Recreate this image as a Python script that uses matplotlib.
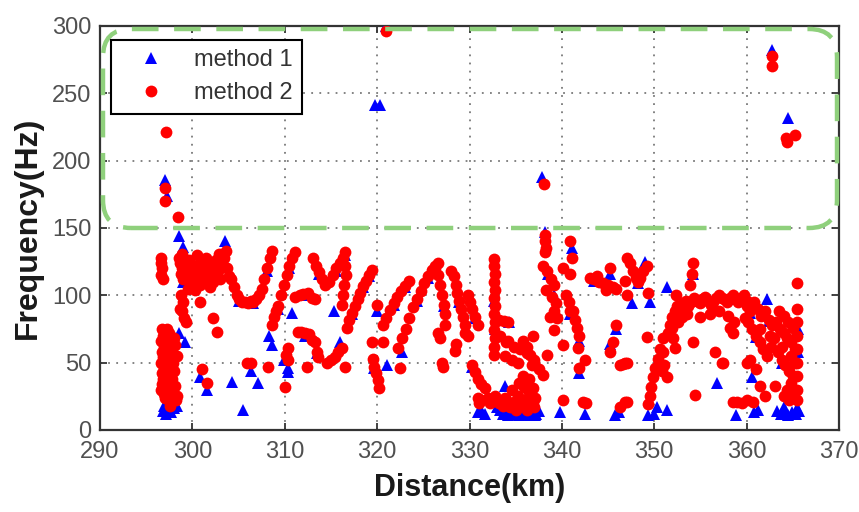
import matplotlib
matplotlib.use("Agg")
import matplotlib.pyplot as plt
from matplotlib.patches import FancyBboxPatch

FONT = "Liberation Sans"

# ---------------- data ----------------
xticks = [290, 300, 310, 320, 330, 340, 350, 360, 370]
yticks = [0, 50, 100, 150, 200, 250, 300]

m2_outliers = [(297.1, 221), (297.0, 180), (297.0, 170), (298.4, 158), (321.0, 296), (338.1, 183),
               (338.2, 140), (338.3, 135), (362.7, 278), (362.7, 270), (364.3, 217), (364.4, 214),
               (365.2, 219)]
m2_a = [(296.6, 128), (296.6, 124), (296.7, 120), (296.6, 115), (296.8, 112),
        (296.7, 75), (296.8, 70), (296.6, 66), (296.9, 62), (296.7, 58), (296.8, 54), (296.6, 50),
        (296.9, 46), (296.7, 42), (296.8, 38), (296.7, 34), (296.6, 30), (296.9, 27), (297.0, 24),
        (297.1, 68), (297.2, 60), (297.3, 55), (297.2, 48), (297.4, 42), (297.3, 36), (297.5, 30),
        (297.4, 25), (297.6, 20), (297.5, 72), (297.7, 65), (297.8, 58), (297.9, 50), (298.0, 44),
        (297.8, 38), (298.1, 33), (297.9, 27), (298.2, 22), (298.3, 25), (297.6, 18), (297.3, 75),
        (298.0, 68), (298.1, 63), (298.3, 55)]
m2_b = [(298.5, 128), (298.7, 124), (298.9, 120), (298.8, 116), (299.0, 112), (299.2, 118),
        (299.4, 122), (299.6, 126), (299.8, 115), (300.0, 110), (300.2, 118), (300.4, 122),
        (300.6, 114), (300.8, 108), (301.0, 120), (301.2, 125), (301.4, 112), (301.6, 118),
        (301.8, 122), (302.0, 115), (302.2, 110), (302.4, 120), (302.6, 126), (302.8, 118),
        (303.0, 112), (303.2, 122), (303.4, 128), (303.6, 133), (303.8, 120), (304.0, 114),
        (299.5, 105), (300.3, 104), (301.9, 106), (298.9, 131), (300.5, 130), (301.5, 128),
        (302.9, 131), (298.8, 100), (299.0, 95), (298.9, 88), (299.1, 83), (299.3, 80), (298.7, 90),
        (300.8, 95), (302.2, 83), (302.7, 73), (301.0, 45), (301.6, 35)]
m2_c = [(304.2, 112), (304.5, 106), (304.8, 100), (305.1, 97), (305.4, 95), (305.7, 95), (306.0, 94),
        (306.3, 96), (306.6, 95), (306.9, 97), (307.2, 100), (307.5, 105), (307.8, 112), (308.1, 120),
        (308.4, 128), (308.6, 133), (305.9, 50), (306.4, 50), (308.2, 47),
        (308.6, 78), (308.8, 84), (309.0, 88), (309.3, 92), (309.6, 100), (309.9, 108), (310.2, 115),
        (310.5, 122), (310.8, 128), (311.1, 132), (310.0, 32), (310.3, 52), (310.3, 61), (310.1, 56)]
m2_d = [(311.1, 99), (311.6, 100), (312.0, 101), (312.5, 102), (313.0, 98), (313.3, 97),
        (311.4, 73), (311.8, 73), (312.2, 72), (312.6, 71), (313.0, 67), (313.3, 65), (313.5, 58),
        (313.6, 54), (312.4, 47), (314.6, 50), (315.0, 52), (315.4, 54), (315.8, 58),
        (313.1, 128), (313.4, 122), (313.7, 117), (314.0, 112), (314.4, 108), (314.8, 110),
        (315.2, 115), (315.6, 120), (316.0, 124), (316.3, 128), (316.5, 132),
        (316.5, 122), (316.6, 115), (316.4, 108), (316.3, 100), (316.2, 93)]
m2_e = [(316.7, 76), (317.0, 82), (317.3, 87), (317.6, 92), (317.9, 97), (318.2, 102), (318.5, 107),
        (318.8, 111), (319.1, 115), (319.4, 119), (316.2, 61), (316.5, 47), (319.4, 65), (320.0, 93),
        (319.5, 53), (319.7, 47), (319.9, 42), (320.1, 37), (320.2, 31), (320.6, 65), (322.5, 46),
        (320.6, 78), (321.0, 83), (321.4, 89), (321.8, 94), (322.2, 99), (322.6, 103), (323.0, 107),
        (323.4, 111), (322.3, 61), (322.7, 68), (323.1, 75), (323.5, 83), (323.9, 91), (324.3, 97),
        (324.7, 103), (325.1, 109), (325.5, 114), (325.9, 119), (326.3, 122), (326.6, 124)]
m2_f = [(326.3, 120), (326.6, 115), (326.8, 108), (327.0, 100), (327.2, 93), (327.3, 86), (327.4, 78),
        (326.6, 72), (326.8, 68), (327.0, 50), (327.1, 47), (328.0, 118), (328.3, 114), (328.5, 108),
        (328.7, 102), (328.9, 96), (329.1, 90), (329.3, 84), (329.5, 78), (328.4, 59), (328.5, 64),
        (329.8, 100), (330.0, 95), (330.3, 90), (330.6, 84), (330.9, 78), (329.8, 70), (329.5, 72),
        (330.3, 48), (330.6, 43), (330.9, 38), (331.2, 34), (331.7, 31), (330.9, 24), (331.0, 20),
        (331.2, 22)]
m2_g = [(332.7, 127), (332.7, 122), (332.8, 116), (332.7, 110), (332.8, 104), (332.7, 98), (332.8, 92),
        (332.7, 86), (332.8, 80), (332.7, 74), (332.8, 68), (332.7, 62), (332.6, 56), (333.2, 82),
        (333.7, 81), (334.2, 80), (333.3, 70), (334.0, 65), (334.8, 62), (335.5, 60), (336.2, 57),
        (337.0, 52), (333.8, 55), (334.6, 52), (335.3, 50), (336.2, 62), (336.8, 48), (335.8, 66),
        (334.2, 66), (332.8, 25), (333.2, 20), (333.6, 18), (334.0, 22), (334.4, 17), (334.8, 21),
        (335.2, 25), (335.6, 18), (336.0, 22), (336.4, 28), (336.8, 20), (337.1, 24), (334.6, 30),
        (335.4, 35), (335.9, 32), (333.8, 24), (335.0, 15), (336.2, 15), (337.0, 17), (335.8, 40),
        (336.4, 38), (332.2, 20), (332.0, 24)]
m2_h = [(336.9, 70), (336.6, 56), (337.0, 50), (337.5, 45), (338.0, 41), (338.4, 56), (336.9, 31),
        (336.9, 21), (340.1, 22), (338.2, 145), (338.2, 132), (338.0, 122), (338.4, 118), (338.8, 112),
        (339.2, 108), (338.3, 104), (338.9, 99), (339.4, 94), (339.1, 88), (338.7, 84), (339.5, 83),
        (340.9, 140), (341.1, 128), (340.1, 120), (340.9, 116), (340.4, 100), (340.8, 95), (340.9, 88),
        (341.2, 88), (341.4, 82), (341.6, 76), (341.9, 70), (339.2, 74), (340.1, 63), (341.7, 61),
        (342.5, 52), (341.9, 46), (342.3, 21), (342.6, 20)]
m2_i = [(343.0, 113), (343.5, 112), (344.0, 110), (344.5, 109), (345.0, 108), (345.5, 106), (345.9, 105),
        (345.2, 120), (343.8, 114), (344.8, 104), (345.2, 58), (345.5, 65), (345.9, 78), (346.3, 48),
        (346.6, 49), (347.0, 50), (346.3, 17), (346.8, 21), (347.1, 21), (346.8, 111), (347.1, 128),
        (347.4, 124), (347.7, 118), (348.0, 113), (348.2, 110), (348.5, 113), (348.8, 118), (349.2, 122),
        (347.1, 100), (349.3, 102), (349.2, 69), (346.8, 50)]
m2_j = [(349.3, 19), (349.5, 25), (349.7, 32), (349.9, 39), (350.1, 46), (350.4, 53), (350.6, 60),
        (350.9, 68), (351.1, 48), (351.4, 39), (350.8, 44), (351.0, 58), (352.4, 100), (354.2, 124),
        (354.1, 116), (353.9, 108), (354.4, 26)]
m2_k = [(351.5, 72), (351.7, 78), (351.9, 84), (352.2, 88), (352.5, 92), (352.8, 90), (353.1, 94),
        (353.4, 96), (353.7, 92), (354.0, 95), (354.3, 98), (354.6, 96), (354.9, 94), (355.2, 97),
        (355.5, 99), (355.8, 96), (356.1, 93), (356.4, 95), (356.7, 98), (357.0, 100), (357.3, 98),
        (357.6, 97), (357.9, 95), (358.2, 98), (358.5, 100), (358.8, 97), (359.1, 95), (359.4, 98),
        (359.7, 100), (360.0, 96), (351.9, 76), (352.2, 61), (352.0, 68), (352.6, 80), (353.0, 84),
        (353.5, 86), (354.2, 65), (356.6, 58), (357.3, 50), (355.0, 84), (356.0, 86), (357.0, 88),
        (358.0, 85), (358.6, 80), (358.2, 76), (358.5, 72)]
m2_l = [(359.6, 98), (360.0, 92), (360.4, 88), (360.8, 95), (361.2, 90), (361.6, 85), (362.0, 88),
        (362.4, 82), (362.8, 78), (363.2, 80), (363.6, 75), (364.0, 72), (364.4, 68), (364.8, 65),
        (365.2, 60), (365.5, 90), (365.5, 80), (365.5, 70), (365.5, 60), (365.5, 50), (365.5, 40),
        (365.5, 30), (365.5, 22), (360.2, 80), (360.6, 75), (361.0, 70), (361.4, 65), (361.8, 60),
        (362.2, 55), (362.6, 62), (363.0, 68), (363.4, 58), (363.8, 52), (364.2, 48), (364.6, 44),
        (365.0, 40), (364.8, 35), (364.4, 30), (364.0, 25), (364.6, 22), (365.0, 26), (365.2, 50),
        (361.5, 33), (362.0, 25), (363.1, 33), (360.0, 50), (360.4, 52), (361.0, 45), (357.4, 50),
        (363.5, 88), (364.0, 85), (364.5, 80), (365.0, 76), (362.5, 70), (363.8, 62), (364.8, 55),
        (359.8, 83), (361.5, 75), (358.5, 21), (359.0, 21), (359.5, 20), (360.0, 22), (360.7, 21),
        (365.5, 109)]

m1_outliers = [(297.0, 186), (297.2, 174), (298.6, 144), (299.0, 136), (319.8, 241), (320.3, 241),
               (321.0, 300), (337.8, 188), (338.2, 147), (362.7, 282), (364.5, 232)]
m1_visible = [(296.8, 14), (297.1, 12), (297.4, 16), (297.7, 13), (298.0, 16), (298.3, 18), (297.5, 19),
              (296.9, 18), (299.2, 65), (300.8, 39), (301.6, 30), (304.3, 36), (305.5, 15), (307.1, 35),
              (306.4, 44), (308.6, 63), (308.3, 70), (310.3, 43), (310.4, 46), (310.8, 87), (315.3, 88),
              (316.5, 130), (303.5, 140), (299.6, 108), (298.6, 72), (321.1, 48), (320.0, 88),
              (316.0, 65), (322.7, 58), (330.9, 13), (331.2, 15), (331.7, 12),
              (333.3, 15), (333.6, 12), (333.9, 13), (334.2, 11), (334.5, 13), (334.8, 12), (335.1, 14),
              (335.4, 11), (335.7, 13), (336.0, 12), (336.3, 14), (336.6, 11), (336.9, 13), (337.2, 12),
              (337.5, 14), (333.0, 17), (333.8, 33), (335.8, 39), (334.3, 80), (336.5, 11), (337.1, 11),
              (339.8, 13), (342.5, 12), (341.1, 135), (341.9, 66), (341.9, 42), (345.2, 116), (345.2, 64),
              (345.9, 75), (345.7, 11), (346.2, 13), (349.0, 125), (347.6, 94), (349.5, 95), (351.4, 106),
              (354.2, 116), (349.3, 11), (350.3, 17), (351.4, 15), (350.0, 12), (356.8, 35), (358.9, 11),
              (360.6, 39), (360.8, 13), (361.2, 15), (362.2, 97), (363.3, 14), (363.7, 12), (364.1, 15),
              (364.5, 11), (364.9, 13), (365.3, 12), (365.7, 14), (365.5, 16), (364.0, 17)]
m1_hidden = [(299.0, 110), (300.2, 112), (301.8, 114), (303.0, 125), (305.1, 96), (306.6, 94), (308.1, 118),
             (309.3, 90), (310.5, 120), (311.9, 100), (312.2, 70), (313.7, 116), (315.6, 118), (317.3, 86),
             (318.5, 106), (319.1, 114), (321.8, 93), (323.0, 106), (324.3, 96), (325.5, 113), (327.2, 92),
             (328.9, 95), (330.6, 83), (332.7, 96), (332.8, 75), (338.5, 116), (339.2, 100), (340.9, 86),
             (343.5, 111), (348.2, 109), (350.4, 52), (352.5, 91), (355.5, 98), (358.2, 97), (360.4, 87),
             (362.4, 81), (364.4, 67), (365.6, 58), (365.6, 75), (363.8, 50), (361.0, 69), (330.3, 47),
             (319.7, 46), (309.9, 52), (297.2, 50), (297.8, 40), (313.5, 57)]

method1 = m1_outliers + m1_visible + m1_hidden
method2 = (m2_outliers + m2_a + m2_b + m2_c + m2_d + m2_e + m2_f + m2_g + m2_h + m2_i + m2_j
           + m2_k + m2_l)
m1_x = [p[0] for p in method1]
m1_y = [p[1] for p in method1]
m2_x = [p[0] for p in method2]
m2_y = [p[1] for p in method2]

# ---------------- figure ----------------
fig = plt.figure(figsize=(8.59, 5.12), dpi=100)
ax = fig.add_axes([100 / 859, 1 - 430 / 512, 739 / 859, 404 / 512])

ax.plot(m1_x, m1_y, linestyle="none", marker="^", color="#0000ff", markersize=8,
        markeredgewidth=0, label="method 1", zorder=3)
ax.plot(m2_x, m2_y, linestyle="none", marker="o", color="#ff0000", markersize=8.5,
        markeredgewidth=0, label="method 2", zorder=4)

ax.set_xlim(290, 370)
ax.set_ylim(0, 300)
ax.set_xticks(xticks)
ax.set_yticks(yticks)
ax.grid(True, linestyle=(0, (1, 3.5)), color="#7a7a7a", linewidth=1.3)
ax.set_axisbelow(True)
for s in ax.spines.values():
    s.set_color("#333333")
    s.set_linewidth(1.6)
ax.tick_params(direction="in", length=5, width=1.3, top=True, right=True, colors="#333333",
               labelcolor="#505050", labelsize=17)
ax.tick_params(axis="x", pad=8)
ax.tick_params(axis="y", pad=6)
for lab in ax.get_xticklabels() + ax.get_yticklabels():
    lab.set_family(FONT)

ax.set_xlabel("Distance(km)", fontsize=22, fontweight="bold", family=FONT, color="#1a1a1a",
              labelpad=7)
ax.set_ylabel("Frequency(Hz)", fontsize=23, fontweight="bold", family=FONT,
              color="#1a1a1a", labelpad=7)

# green dashed rounded box
ax_w, ax_h = 739.0, 404.0
x0 = (103 - 100) / ax_w
x1 = (837 - 100) / ax_w
y0 = (430 - 228) / ax_h
y1 = (430 - 29) / ax_h
r = 28.0
box = FancyBboxPatch((x0, y0), x1 - x0, y1 - y0,
                     boxstyle=f"round,pad=0,rounding_size={r / ax_w}",
                     mutation_aspect=ax_w / ax_h,
                     transform=ax.transAxes, fill=False, edgecolor="#8fd07c",
                     linewidth=3.2, linestyle=(0, (6, 3.5)), zorder=5, clip_on=False)
ax.add_patch(box)

leg = ax.legend(loc="upper left", bbox_to_anchor=((111 - 100) / ax_w, (430 - 40) / ax_h),
                borderaxespad=0, frameon=True, fancybox=False, framealpha=1,
                edgecolor="black", prop={"family": FONT, "size": 17},
                handlelength=2.6, handletextpad=0.5, borderpad=0.4, labelspacing=0.45,
                markerscale=1.0)
leg.get_frame().set_linewidth(1.5)
for t in leg.get_texts():
    t.set_color("#333333")
leg.set_zorder(6)

fig.savefig("out.png", dpi=100)
